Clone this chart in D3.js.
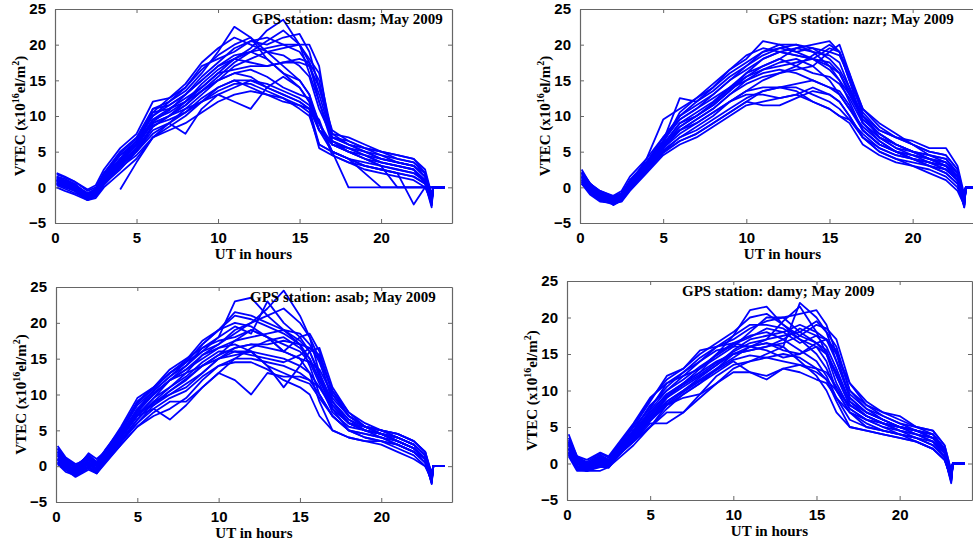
<!DOCTYPE html>
<html>
<head>
<meta charset="utf-8">
<script src="https://cdn.jsdelivr.net/npm/d3@7"></script>
<style>
  body { margin: 0; background: #fff; }
  svg { display: block; font-family: "Liberation Serif", "DejaVu Serif", serif; }
  .tick text { font-size: 15px; font-weight: bold; fill: #000; }
  .lbl { font-size: 15px; font-weight: bold; fill: #000; }
  .ttl { font-size: 15px; font-weight: bold; fill: #000; }
</style>
</head>
<body>
<svg width="973" height="546"></svg>
<script>
// UT sample hours shared by every daily curve
const hours = [0.1, 0.6, 1.2, 2, 2.5, 3, 4, 5, 6, 7, 8, 9, 10, 11, 12, 13, 14, 15, 15.6, 16.2, 17, 18, 19, 20, 21, 22, 22.7, 23.1, 23.2, 23.9];

const xTicks = [0, 5, 10, 15, 20];
const yTicks = [-5, 0, 5, 10, 15, 20, 25];

// station dasm, daily VTEC curves
const dasm = [
  [1.5,1.2,0.5,-1.2,-0.5,1.5,4.5,6,11,12,13.5,16,19,22.5,21,19,17,15,13,8,6.5,5.5,4.5,3.5,3,2.5,1,-2,0,0],
  [1,0.8,0.3,-1.5,-1,1,3.5,5.5,9.5,10.5,12,14,16,18,19.5,22,23.5,20,17.5,12,6,5,4,3.5,3,2.5,0.5,-2.5,0,0],
  [0.5,0,-0.5,-1.8,-1.2,0.5,3,5,8.5,10,11.5,13.5,15.5,17.5,19,20.5,22,20,16,12,7,6,5,4,3.5,3,1.5,-1.5,0,0],
  [0.5,0.3,-0.3,-1,-0.5,1,3,5,8,9,10.5,12,13.5,14.5,14.5,13.5,12.5,11,10,6,5,4,3,2.5,2,1.5,0.5,-1.5,0,0],
  [2,1.5,0.8,-0.5,0,2,5,7,11,11.5,13,15,17,18,19,19.5,20,20,18,16,7.5,7,6,5,4.5,4,2.5,-1,0,0],
  [1,0.5,0,-1.2,-0.8,1.2,4,6,9,10,11,12,13,12,11,14,15.5,14,12,9,5,4,3.5,3,2.5,2,1,-2,0,0],
  [0.8,0.4,0.2,-1,-0.3,2,4.5,6.5,10,12,14,16.5,18.5,20,21,18,16,15,13,9,6,5.5,4.5,3.5,3,2.5,1,-2.5,0,0],
  [1.2,0.8,0.3,-0.8,-0.2,1.5,4,6,10.5,11,12.5,14,16,16.5,17,17,17.5,17.5,17,14,7.5,6,5,4,3.5,3,2,-1.5,0,0],
  [0.5,0.2,-0.5,-1.5,-1,0.5,2.5,5,7.5,9,11,13,15,16,15.5,14,13,12,11,8,5,0,0,0,0,0,0,0,0,0],
  [0,-0.5,-1,-1.8,-1.5,0,2,4,7,8,9,10.5,12,13,13.5,13,12.5,11.5,10.5,5.5,4.5,3.5,2.5,2,1.5,1,0,-2,0,0],
  [1.5,1,0.5,-1,-0.5,1.5,4,6.5,10,11.5,13,15,17,18.5,19,18,16,14,12,8,6.5,5.5,5,4.5,4,3.5,2,-1,0,0],
  [null,null,null,null,null,null,-0.3,3.5,7,9,7.5,11,13,14,15,14,13,12,11,6,5,4,3,2.5,2,-2.4,0,0,0,0],
  [1,0.5,0,-1.2,-0.7,1,3.5,6,9,10,12,13.5,15,17,18,19,19.5,20,20,17,6,5,4.5,4,3.5,3,1.5,-2,0,0],
  [0.8,0.3,-0.2,-1.3,-0.8,0.8,3,5.5,8.5,10,11.5,13.5,15,16,16.5,15.5,14,13,12.5,9,5,4,2,0,0,0,0,0,0,0],
  [1.8,1.4,0.8,-0.3,0.3,2.5,5.5,7.5,12,12.5,14,17,18,19,20.5,21,20,19,17,13,7,6,5.5,5,4.5,4,2,-1.5,0,0],
  [0.3,-0.2,-0.8,-1.6,-1.3,0.3,2.8,4.5,7,8.5,10,12,14,15,14,13,12,11.5,11,9.5,4.5,3.5,3,2.5,2,1.5,0.5,-2.8,0,0],
  [1.3,0.9,0.4,-0.9,-0.4,1.8,4.8,6.8,10.5,12.5,14.5,17.5,19.5,21,20,19,18.5,17,15.5,11,7,6.5,5.5,4.5,3.5,3,1.5,-2,0,0],
  [0.6,0.1,-0.4,-1.4,-0.9,0.7,3.3,5.3,8.7,9.5,10.5,12.5,14,15,15,14.5,13.5,12.5,11.5,8,6,5,4,3,2.5,2,0.8,-1.8,0,0],
  [1.1,0.7,0.1,-1.1,-0.6,1.3,3.8,6.2,9.5,11,12,14.5,16.5,18,17.5,17,17.5,18,17.5,15,6.5,5,4,3,0,0,0,0,0,0],
  [0.9,0.5,0,-1.3,-0.9,1,3.7,5.8,9.2,10.8,13,15.5,17.5,19.5,20.5,20,21,21.5,19,14,8,6.5,5.5,5,4,3.5,2,-2.2,0,0]
];

// station nazr
const nazr = [
  [2.5,0.5,-1,-1.5,-1,0.5,3,5.5,8,9.5,11,13,15,16.5,17,17.5,18,17,15,12,8,6,5,4,3,2,0.5,-2,0,0],
  [1.5,0,-1.5,-2,-1.5,0,2.5,5,7,8.5,10,12,13,13,12.5,13,12,11,10,9,6,4.5,3.5,3,2.5,1.5,0,-2.5,0,0],
  [2,0.5,-1,-2.5,-1.8,0.5,4,9.5,11,12.5,14,16,17.5,19,19.5,19,18,16.5,15,13,10,7.5,6,5,4,3,1,-1.5,0,0],
  [1,-0.5,-1.5,-2,-1.5,0,2.5,5,6.5,7.5,9,10.5,12,11.5,11.5,12.5,13.5,13,12,10,7,5.5,4.5,4,3.5,3,1.5,-2,0,0],
  [0.5,-0.5,-1.5,-1.5,-1,1,3.5,6.5,10,12,14,16.5,18,20.5,20,19,19.5,18,16.5,14,10,8,7,6,4.5,3.5,1.5,-1,0,0],
  [2,0,-1,-1.8,-1.2,0.5,3,6,8,9.5,11,13,14.5,15.5,16,16.5,17,19,20,16,10,7,5.5,5,4.5,4,2,-2.8,0,0],
  [1.5,0.5,-0.5,-1.3,-0.8,1,3.5,7,9.5,11,12.5,14,16,17,18,19.5,20,20.5,19,15,10.5,8,7,6.5,5.5,5.5,3,-1,0,0],
  [0.5,-1,-2,-2.2,-2,-0.5,2,4.5,6,7,8.5,10,11.5,12,12.5,13,14,13,12,10,7,5,4,3,2,1,-0.5,-2.5,0,0],
  [1,0,-1,-1.5,-1,0.5,3,6,9,10.5,12,14,15.5,16.5,17.5,18,17,15,13,11,8.5,6.5,5,4,3,2.5,1,-2,0,0],
  [2,0.5,-0.5,-1.2,-0.5,1.5,4,7,10,11.5,13,15,16.5,18,19,18.5,18,19.5,19,16,11,9,7.5,6,5,4.5,2.5,-1.5,0,0],
  [0.8,-0.5,-1.5,-2,-1.5,0,2.5,5.5,8,9,10.5,12,13.5,14,14,13.5,12,11,10,9.5,7,5,4,3.5,3,2,0.5,-2.2,0,0],
  [1.5,0,-1,-1.8,-1.3,0.5,3.5,6,9,10,11.5,13.5,15.5,17,18,17,16,15.5,14.5,12.5,9,7,5.5,4.5,3.5,3,1.5,-1.5,0,0],
  [1.2,0,-1,-1.6,-1.2,0.8,3.2,6.5,12.5,12,13.5,15.5,17,18.5,19.5,20,19,17,16,13,9.5,7.5,6,5,4,3.5,2,-2,0,0],
  [1,-0.3,-1.3,-1.9,-1.4,0.2,2.8,5.5,7.5,9,10.5,12,13.5,15,16,17,18.5,20,19,15,9,6.5,5,4.5,4,3,1,-2.5,0,0],
  [1.8,0.2,-1.2,-2.3,-1.7,0.2,3,5.8,8.5,10,11.5,13.5,16,18,19,19.5,19,18.5,17.5,14,9,7,6,5,4,3.5,2,-2,0,0],
  [0.8,-0.6,-1.7,-2.1,-1.6,0,2.6,5.2,7,8,9.5,11,12.5,13.5,14,14,13,12,11,9.5,7.5,5.5,4.5,4,3.5,2.5,1,-2.5,0,0],
  [2.2,0.6,-0.7,-1.6,-1,0.8,3.5,6.5,9.5,11,13,15,17,19,20,20,19.5,19,18.5,15.5,11,8.5,7,6,5,4.5,2.5,-1.5,0,0],
  [1.3,-0.2,-1.2,-1.7,-1.3,0.3,2.9,5.7,8.5,10,11.8,13.8,15,16,16.5,16,15,14,13.5,11.5,8,6,5,4,3.5,2.5,1,-2.2,0,0],
  [1.6,0.3,-0.8,-1.4,-0.9,0.8,3.4,6.2,10.5,12.5,14.5,16.5,18.5,19.5,19,18.5,18,17.5,16,13.5,9.5,7.5,6,5,4.5,4,2,-1.8,0,0],
  [0.6,-0.8,-1.8,-2.4,-1.9,-0.3,2.2,4.8,6.5,7.5,9,10.5,12,13.5,14,14.5,15,14,13,11,8,6,5,4.5,4,3,1,-2.8,0,0]
];

// station asab
const asab = [
  [2.5,1,-0.5,0.5,-0.5,1.5,4,7,9.5,12,14,16,18,23,23.5,21,19,17,14,10,7,5,4.5,4,3,2,1,-1,0,0],
  [1,0,-1,0,-1,1,3.5,6.5,9,11,13,15.5,17,19,20,22,24.5,21,18,15,9,6,5,4.5,3.5,2.5,1,-2.5,0,0],
  [0.5,-0.5,-1.5,-0.5,-1,0.5,3,5.5,7.5,9,9,11,13,12,10,13,12.5,12.5,12,11,8,5,4.5,4,3,2,0.5,-2,0,0],
  [2,0.5,0,1.5,0.5,2,5,9,11,13.5,15,16.5,17.5,18,19,18,16,15,13,9,5,4,3.5,3.5,2.5,1.5,0,-1.5,0,0],
  [1.5,0.5,-1,0.5,-0.5,1,4,7,9,10,11.5,13,15,16.5,17,16.5,16,18,18.5,16,10,7,5.5,5,4,3,1.5,-2,0,0],
  [0.5,-0.5,-1,1,0,1.5,4,8,10,12,13,14,15,15.5,16,14,13,12,11.5,9.5,7,5,4,3.5,3,2,0.5,-2.2,0,0],
  [1,0,-0.5,1.8,1,2,5.5,9.5,11,13,14.5,16,17,18.5,20,21,22,20,18,13,8,6,5.5,5,4.5,3.5,2,-1,0,0],
  [2,1,0,0.5,0,1.5,4.5,7.5,8.5,10,11,13,15,16,16,15.5,15,14,13,11,8.5,6,5,4.5,3.5,2.5,1,-1.8,0,0],
  [1.5,0.5,-0.8,0.2,-0.6,1.2,4,7,8,6.5,8.5,11,13,15,16.5,17.5,18,16.5,15,12,9,6.5,5,4,3.5,2.5,1,-2.4,0,0],
  [0.8,-0.2,-1.2,0,-0.8,0.8,3.5,6,8.5,10.5,12,14,15.5,17.5,19,18,16,15,14.5,13.5,10,7,5.5,4.5,3.5,2.5,1,-1.5,0,0],
  [2.8,1.2,0.3,1,0.2,2,4.8,8.5,10.5,12.5,14.5,17,19,21,20.5,19.5,18.5,17,15,12,8,6,5,4.5,4,3,1.5,-1,0,0],
  [0.3,-0.8,-1.3,-0.3,-1,0.3,3,5.5,7,8,9.5,12,14,14.5,14.5,13.5,12,11,10,7,5,4,3.5,3,2,1,0,-2,0,0],
  [1.2,0.2,-0.5,0.8,0,1.5,4.2,7.5,10,12,13.5,15.5,16.5,17,16,14,11,14,16,16.5,11,7.5,6,5,4,3,1.5,-1.5,0,0],
  [1.8,0.8,-0.3,1.3,0.4,1.8,4.6,8,10.5,12.5,14,16.5,18,19.5,18.5,23,20,18,16,13,9,6.5,5.5,5,4.5,3.5,2,-1.2,0,0],
  [2.2,0.9,-0.2,1.6,0.6,2.2,5.2,9,11,13,14.5,17,19,21.5,21,20,19,17.5,16,12.5,8.5,6,5,4.5,4,3,1.5,-1.5,0,0],
  [0.6,-0.4,-1.4,-0.2,-0.9,0.6,3.3,6,8,9.5,10.5,12.5,14,15,15,14.5,14,13,12,10,7,5,4,3.5,3,2,0.5,-2.3,0,0],
  [1.7,0.7,-0.4,1.1,0.3,1.6,4.4,7.8,10.2,12,13.5,15,16.5,17.5,18,18.5,19,18.5,17,14.5,9.5,7,5.5,5,4.5,3.5,2,-1.7,0,0],
  [1.4,0.4,-0.7,0.6,-0.3,1.3,4.1,7.2,9.5,11,12.5,14.5,16,16,15.5,15,14.5,15.5,16.5,15,10.5,7.5,5.5,4.5,3.5,2.5,1,-2,0,0],
  [2.4,1.1,0.1,1.4,0.5,2.1,5,8.8,10.8,13,14.8,17.5,19,20,19.5,18,17,16,14.5,11.5,7.5,5.5,5,4.5,4,3,1.5,-1.3,0,0],
  [0.9,-0.1,-1.1,0.4,-0.5,1,3.7,6.5,8.8,10.5,12.2,14,15.5,16.5,17,17,17.5,17,16.5,15.5,10.5,7,5.5,4.5,3.5,2.5,1,-2.1,0,0]
];

// station damy
const damy = [
  [4,1,0,-0.5,0,1.5,3.5,6,9,11,13,15,17.5,21,21.5,19,17,15,13,10,7,6,5,4,3.5,3,1.5,-1,0,0],
  [2,0,-1,-1,-0.5,1,3,5.5,5.5,7,9,11,13,14,15,16,22,20,18,14,9,7,6,5,4.5,4,2,-2,0,0],
  [3,0.5,-0.5,0,-0.5,1,3,5,7.5,9.5,11,12.5,14,12.5,11.5,13,13.5,12.5,11.5,10,7,5,4.5,4,3.5,2.5,1,-2.5,0,0],
  [1.5,-0.5,-1,0.5,0,1.5,4,7,9.5,11,12.5,15,16.5,17.5,18,17,15.5,14,12,9,6,5,4.5,4,3,2,0.5,-1.5,0,0],
  [2.5,0.5,0,1,0.5,2,5,7.5,11,12,14,16,17,18.5,19.5,20,20.5,21,19,15,9,7,6,5,4.5,4,2,-1.2,0,0],
  [1,-1,-1,-0.5,-0.5,0.5,2.5,5,8,9,9.5,12,13.5,14,14.5,15,14.5,13,11.5,8.5,5,4.5,4,3.5,3,2,0.5,-2,0,0],
  [3.5,1,0.5,1.5,1,2.5,5.5,9,11,12.5,14,15.5,16,16,17,19.5,21.5,18,15,11,7.5,6,5.5,5,4,3.5,2,-1.8,0,0],
  [2,0,-0.5,0,-0.3,1,3.5,6,8.5,10,11.5,13,14.5,16,16.5,15.5,15,16.5,17,15,11,8,7,6.5,5,4.5,2.5,-1,0,0],
  [1.5,-0.5,-1,-0.3,-0.5,1,3,5,7,7,9.5,11,12.5,12.5,12,13,12.5,11.5,11,9,7,5.5,4.5,4,3.5,2.5,1,-2.7,0,0],
  [2.2,0.3,-0.3,0.8,0.2,1.8,4.5,8,10,12,13,14.5,16,18,20,20,18,16.5,15,12,8,6.5,5.5,5,4,3,1.5,-1.5,0,0],
  [3,0.8,0,1.2,0.5,2,5,8.5,12,13,15.5,16,16.5,16,15.5,14.5,15,16,14,10,8,6.5,5.5,4.5,4,3.5,1.5,-2,0,0],
  [1.8,0,-0.8,0.3,-0.2,1.2,3.8,6.5,9,10.5,12,13.5,15.5,17,17.5,18,19,18,17,14,9.5,7.5,6,5,4.5,3.5,1.5,-2.2,0,0],
  [2.5,0.2,-0.6,0.6,0,1.5,4.2,7,9.5,11,12.5,14,15,15.5,16,16.5,17.5,19,18.5,17,11,8.5,7,6,5,4.5,2.5,-1,0,0],
  [1.2,-0.8,-1,-0.2,-0.6,0.8,3.2,5.8,8,9.5,11,13,15,16,16.5,16,14,12,10,7,5,4.5,4,3.5,3,2,0.5,-2,0,0],
  [2.8,0.6,-0.2,0.9,0.3,1.7,4.6,7.8,10.5,12.5,14.5,16,17.5,19,19,18.5,17,16,15,12.5,8.5,7,6,5,4.5,4,2,-1.6,0,0],
  [1.6,-0.3,-0.9,0.2,-0.4,1.1,3.6,6.3,8.5,10,11.8,13.5,15,15.5,16,17,18.5,17.5,16,13,8.5,6.5,5.5,4.5,4,3,1,-2.3,0,0],
  [3.2,0.9,0.2,1.4,0.8,2.3,5.3,8.8,11.5,13,15,16.5,18,20,20.5,19,17.5,16.5,15.5,12,8,6.5,5.5,5,4.5,3.5,1.8,-1.4,0,0],
  [2,0.1,-0.7,0.4,-0.1,1.3,3.9,6.7,9.2,10.8,12.2,13.8,15.3,16.5,17,17.5,18,19.5,18,16,10,8,6.5,5.5,4.5,3.5,1.5,-1.8,0,0],
  [1.3,-0.6,-1,-0.1,-0.5,0.9,3.3,5.9,8.2,9.8,11.3,12.8,14.2,14.8,14.5,14,13.5,13,12.5,10.5,7.5,6,5,4.5,3.5,2.5,0.8,-2.4,0,0],
  [2.7,0.4,-0.4,0.7,0.1,1.6,4.4,7.3,10,11.5,13.3,14.8,16.3,17.3,18.5,18,16.5,17.5,17,15.5,10,7.5,6.5,5.5,5,4,2,-1.3,0,0]
];

const stations = ["dasm", "nazr", "asab", "damy"];
const stationData = [dasm, nazr, asab, damy];

// panel boxes in page pixels
const panels = [
  { left: 55,  right: 452, top: 9,   bottom: 223, titleX: 197 },
  { left: 580, right: 985, top: 9,   bottom: 223, titleX: 188 },
  { left: 56,  right: 452, top: 287, bottom: 502, titleX: 194 },
  { left: 567, right: 972, top: 281, bottom: 500, titleX: 115 }
];

const svg = d3.select("svg");

panels.forEach((p, i) => {
  const x = d3.scaleLinear().domain([0, 24.35]).range([p.left, p.right]);
  const y = d3.scaleLinear().domain([-5, 25]).range([p.bottom, p.top]);
  const g = svg.append("g");

  // curves
  const line = d3.line()
    .defined(d => d[1] != null)
    .x(d => x(d[0]))
    .y(d => y(d[1]));

  g.selectAll(".day")
    .data(stationData[i])
    .enter()
    .append("path")
    .attr("class", "day")
    .attr("d", vals => line(hours.map((h, k) => [h, vals[k]])))
    .attr("fill", "none")
    .attr("stroke", "#0000ff")
    .attr("stroke-width", 1.8)
    .attr("stroke-linejoin", "round");

  // axes, ticks inward on all sides
  const bottomAxis = d3.axisBottom(x).tickValues(xTicks).tickSizeInner(-4).tickSizeOuter(0).tickPadding(9);
  const topAxis = d3.axisTop(x).tickValues(xTicks).tickSizeInner(-4).tickSizeOuter(0).tickFormat("");
  const leftAxis = d3.axisLeft(y).tickValues(yTicks).tickSizeInner(-4).tickSizeOuter(0).tickPadding(9);
  const rightAxis = d3.axisRight(y).tickValues(yTicks).tickSizeInner(-4).tickSizeOuter(0).tickFormat("");

  [
    [bottomAxis, `translate(0,${p.bottom})`],
    [topAxis, `translate(0,${p.top})`],
    [leftAxis, `translate(${p.left},0)`],
    [rightAxis, `translate(${p.right},0)`]
  ].forEach(([ax, tr]) => {
    const a = g.append("g").attr("transform", tr).call(ax);
    a.selectAll("path, line").attr("stroke", "#666");
    a.select(".domain").attr("stroke-width", 1.2);
  });

  // axis labels
  g.append("text")
    .attr("class", "lbl")
    .attr("x", (p.left + p.right) / 2)
    .attr("y", p.bottom + 36)
    .attr("text-anchor", "middle")
    .text("UT in hours");

  const yl = g.append("text")
    .attr("class", "lbl")
    .attr("transform", `translate(${p.left - 30},${(p.top + p.bottom) / 2}) rotate(-90)`)
    .attr("text-anchor", "middle");
  yl.append("tspan").text("VTEC (x10");
  yl.append("tspan").attr("font-size", "10px").attr("dy", -6).text("16");
  yl.append("tspan").attr("dy", 6).text("el/m");
  yl.append("tspan").attr("font-size", "10px").attr("dy", -6).text("2");
  yl.append("tspan").attr("dy", 6).text(")");

  g.append("text")
    .attr("class", "ttl")
    .attr("x", p.left + p.titleX)
    .attr("y", p.top + 15)
    .text(`GPS station: ${stations[i]}; May 2009`);
});
</script>
</body>
</html>
